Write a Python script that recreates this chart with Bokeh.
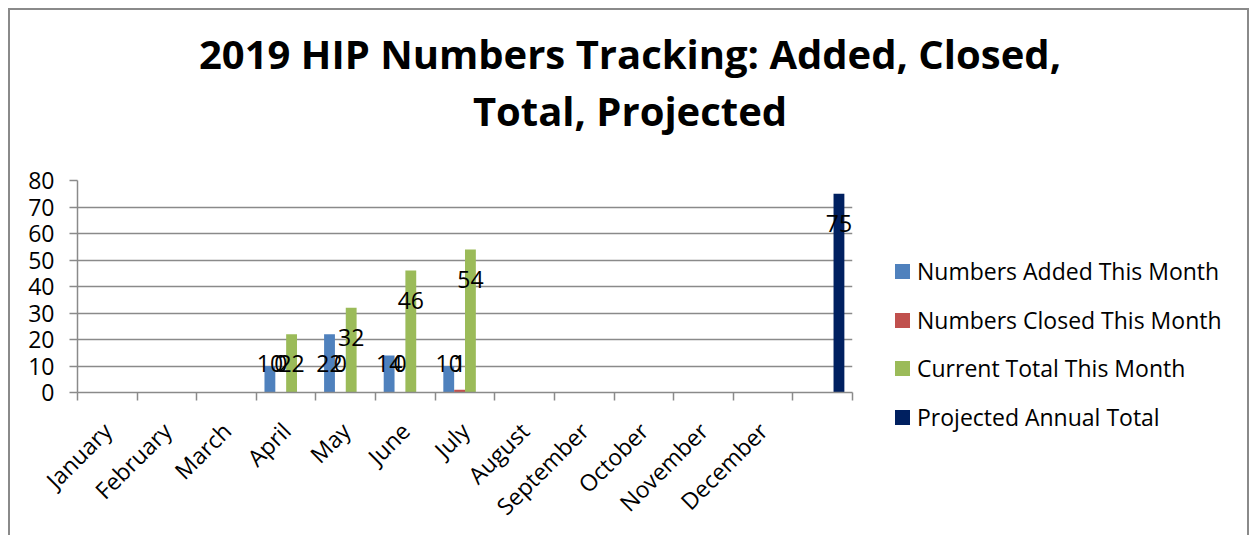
import math
from bokeh.plotting import figure
from bokeh.layouts import column, row
from bokeh.models import ColumnDataSource, Range1d, FixedTicker, Label, Div
from bokeh.embed import file_html
from bokeh.resources import INLINE
from bokeh.core.properties import value

# ---------------- data ----------------
months = ["January", "February", "March", "April", "May", "June", "July",
          "August", "September", "October", "November", "December", ""]
added = [None, None, None, 10, 22, 14, 10, None, None, None, None, None, None]
closed = [None, None, None, 0, 0, 0, 1, None, None, None, None, None, None]
current_total = [None, None, None, 22, 32, 46, 54, None, None, None, None, None, None]
projected = [None] * 12 + [75]

series_names = ["Numbers Added This Month", "Numbers Closed This Month",
                "Current Total This Month", "Projected Annual Total"]
series_values = [added, closed, current_total, projected]
series_colors = ["#4F81BD", "#C0504D", "#9BBB59", "#002060"]

title_lines = ["2019 HIP Numbers Tracking: Added, Closed,", "Total, Projected"]
y_ticks = [0, 10, 20, 30, 40, 50, 60, 70, 80]

FONT = "Open Sans"
GRID = "#8a8a8a"


def transparent(fig):
    fig.outline_line_color = None
    fig.border_fill_alpha = 0
    fig.background_fill_alpha = 0


# ---------------- header (title) ----------------
head = figure(width=1249, height=150, output_backend="svg", toolbar_location=None,
              x_axis_type=None, y_axis_type=None,
              min_border_left=0, min_border_right=0, min_border_top=0, min_border_bottom=0)
transparent(head)
head.grid.visible = False
for line, yb in zip(title_lines, [97, 40]):
    head.add_layout(Label(x=629.5, y=yb, x_units="screen", y_units="screen",
                          text=line, text_align="center", text_baseline="alphabetic",
                          text_font=FONT, text_font_style="bold",
                          text_font_size="40px", text_color="black"))

# ---------------- main chart ----------------
n = len(months)
p = figure(width=856, height=385, output_backend="svg", toolbar_location=None,
           x_range=Range1d(0, n), y_range=Range1d(0, 80),
           min_border_left=77, min_border_right=4, min_border_top=30,
           min_border_bottom=138)
transparent(p)

centers = [i + 0.5 for i in range(n)]
bar_w = 1 / 5.5
offsets = [-1.5 * bar_w, -0.5 * bar_w, 0.5 * bar_w, 1.5 * bar_w]

lab_x, lab_y, lab_t = [], [], []
for k, (name, vals, col) in enumerate(zip(series_names, series_values, series_colors)):
    xs = [centers[i] + offsets[k] for i, v in enumerate(vals) if v is not None]
    ys = [v for v in vals if v is not None]
    src = ColumnDataSource(dict(x=xs, top=ys))
    p.vbar(x="x", top="top", width=bar_w, source=src, fill_color=col, line_color=None)
    for x, v in zip(xs, ys):
        lab_x.append(x)
        lab_y.append(max(v - 11.2, 10.8))
        lab_t.append(str(v))

lsrc = ColumnDataSource(dict(x=lab_x, y=lab_y, t=lab_t))
p.text(x="x", y="y", text="t", source=lsrc, text_align="center",
       text_baseline="middle", text_font=value(FONT), text_font_size="23px",
       text_color="black")

p.xgrid.visible = False
p.ygrid.grid_line_color = GRID
p.ygrid.grid_line_width = 1.5
p.ygrid.ticker = FixedTicker(ticks=y_ticks)

xa = p.xaxis[0]
xa.ticker = FixedTicker(ticks=centers, minor_ticks=list(range(n + 1)))
xa.major_label_overrides = {c: m for c, m in zip(centers, months)}
xa.major_label_orientation = math.pi / 4
xa.major_tick_line_color = None
xa.minor_tick_line_color = GRID
xa.minor_tick_line_width = 1.5
xa.minor_tick_out = 8
xa.minor_tick_in = 0
xa.axis_line_color = GRID
xa.axis_line_width = 1.5
xa.major_label_text_font = FONT
xa.major_label_text_font_size = "23px"
xa.major_label_text_color = "black"
xa.major_label_standoff = 26

ya = p.yaxis[0]
ya.ticker = FixedTicker(ticks=y_ticks)
ya.major_tick_out = 8
ya.major_tick_in = 0
ya.major_tick_line_color = GRID
ya.major_tick_line_width = 1.5
ya.minor_tick_line_color = None
ya.axis_line_color = GRID
ya.axis_line_width = 1.5
ya.major_label_text_font = FONT
ya.major_label_text_font_size = "23px"
ya.major_label_text_color = "black"
ya.major_label_standoff = 15

# ---------------- legend (to the right of the plot area) ----------------
row_tops = [106, 155, 203, 252]
entries = []
for name, col, top in zip(series_names, series_colors, row_tops):
    entries.append(
        f'<div style="position:absolute;left:39px;top:{top}px;height:30px;'
        f'display:flex;align-items:center;white-space:nowrap;">'
        f'<span style="display:inline-block;width:15px;height:15px;'
        f'background:{col};margin-right:7px;"></span>'
        f'<span>{name}</span></div>')
legend_html = (f'<div style="position:relative;width:393px;height:385px;'
               f'font-family:\'{FONT}\';font-size:23px;color:black;line-height:30px;">'
               + "".join(entries) + '</div>')
legend_div = Div(text=legend_html, width=393, height=385, margin=0)

layout = column(head, row(p, legend_div))
layout.styles = {"background-color": "white",
                 "box-shadow": ("inset 8px 0 0 0 white, inset 0 8px 0 0 white, "
                                "inset 10px 10px 0 0 #8a8a8a, inset -2px 0 0 0 #8a8a8a")}

open("out.html", "w").write(file_html(layout, INLINE))
